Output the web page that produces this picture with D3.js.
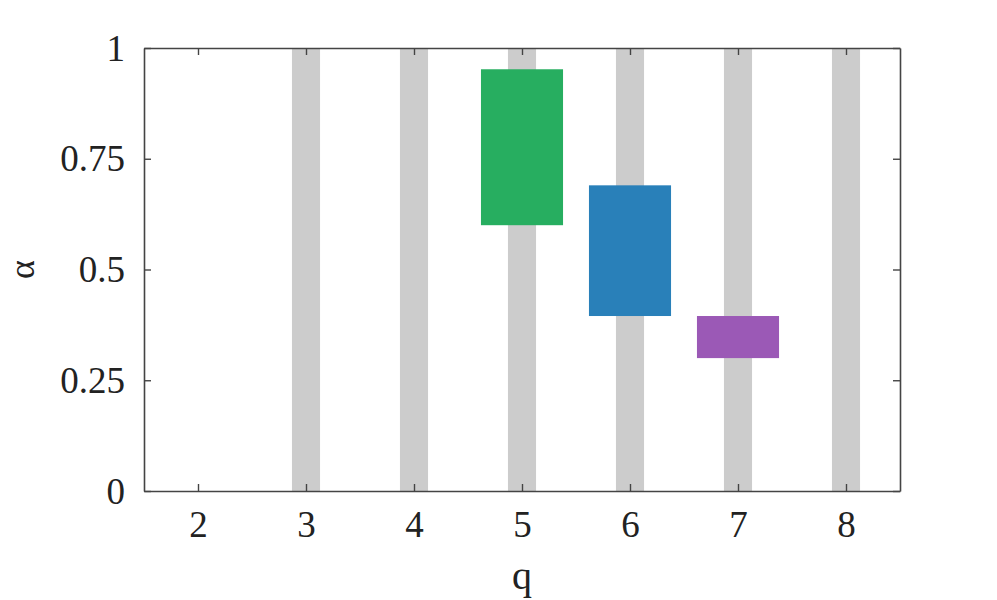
<!DOCTYPE html>
<html>
<head>
<meta charset="utf-8">
<script src="https://cdn.jsdelivr.net/npm/d3@7/dist/d3.min.js"></script>
<style>
  body { margin: 0; background: #fff; }
  svg text { font-family: "Liberation Serif", "Times New Roman", serif !important; fill: #222; }
</style>
</head>
<body>
<svg id="chart" width="997" height="600"></svg>
<script>
/* ---------- data ---------- */
const xTicks = [2, 3, 4, 5, 6, 7, 8];
const yTicks = [0, 0.25, 0.5, 0.75, 1];
const yTickLabels = ['0', '0.25', '0.5', '0.75', '1'];
const grayQ = [3, 4, 5, 6, 7, 8];
const rangeQ    = [5, 6, 7];
const rangeLow  = [0.60, 0.395, 0.30];
const rangeHigh = [0.952, 0.69, 0.395];
const rangeColors = ['#27ae60', '#2980b9', '#9b59b6'];

/* ---------- layout ---------- */
const M = { left: 144, top: 48, right: 900, bottom: 491 };
const svg = d3.select('#chart');

const x = d3.scaleLinear().domain([1.5, 8.5]).range([M.left, M.right]);
const y = d3.scaleLinear().domain([0, 1]).range([M.bottom, M.top]);

const grayHalf = 0.13;
const boxHalf = 0.38;

// gray stripes
svg.append('g').selectAll('rect').data(grayQ).join('rect')
  .attr('x', d => x(d - grayHalf))
  .attr('width', d => x(d + grayHalf) - x(d - grayHalf))
  .attr('y', y(1)).attr('height', y(0) - y(1))
  .attr('fill', '#cccccc');

// range boxes
svg.append('g').selectAll('rect').data(rangeQ).join('rect')
  .attr('x', d => x(d - boxHalf))
  .attr('width', d => x(d + boxHalf) - x(d - boxHalf))
  .attr('y', (d, i) => y(rangeHigh[i]))
  .attr('height', (d, i) => y(rangeLow[i]) - y(rangeHigh[i]))
  .attr('fill', (d, i) => rangeColors[i]);

// axes (ticks inward, mirrored)
const tk = 7;
const axisColor = '#444';
const fmtY = (d, i) => yTickLabels[i];

const gB = svg.append('g').attr('transform', `translate(0,${M.bottom})`)
  .call(d3.axisBottom(x).tickValues(xTicks).tickSizeInner(-tk).tickSizeOuter(0).tickPadding(20).tickFormat(d3.format('d')));
const gT = svg.append('g').attr('transform', `translate(0,${M.top})`)
  .call(d3.axisTop(x).tickValues(xTicks).tickSizeInner(-tk).tickSizeOuter(0).tickFormat(''));
const gL = svg.append('g').attr('transform', `translate(${M.left},0)`)
  .call(d3.axisLeft(y).tickValues(yTicks).tickSizeInner(-tk).tickSizeOuter(0).tickPadding(19).tickFormat(fmtY));
const gR = svg.append('g').attr('transform', `translate(${M.right},0)`)
  .call(d3.axisRight(y).tickValues(yTicks).tickSizeInner(-tk).tickSizeOuter(0).tickFormat(''));

[gB, gT, gL, gR].forEach(g => {
  g.selectAll('path.domain').attr('stroke', axisColor).attr('stroke-width', 1.6);
  g.selectAll('.tick line').attr('stroke', axisColor).attr('stroke-width', 1.4);
  g.selectAll('.tick text').attr('font-size', 37).attr('fill', '#222');
});
gL.selectAll('.tick text').attr('dy', '0.33em');

// axis titles
svg.append('text').attr('x', 522).attr('y', 589)
  .attr('text-anchor', 'middle').attr('font-size', 40).text('q');
svg.append('text').attr('transform', `translate(34,${(M.top + M.bottom) / 2}) rotate(-90)`)
  .attr('text-anchor', 'middle').attr('font-size', 36).text('α');
</script>
</body>
</html>
